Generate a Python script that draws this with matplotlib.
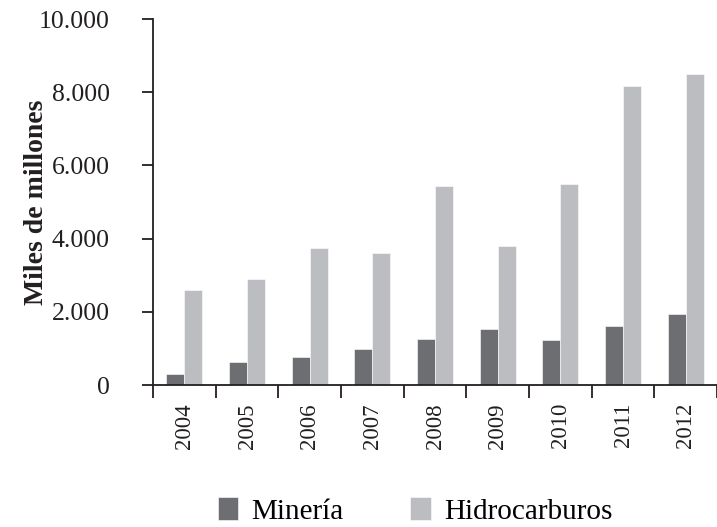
import matplotlib
matplotlib.use("Agg")
import matplotlib.pyplot as plt
import numpy as np

years = ["2004", "2005", "2006", "2007", "2008", "2009", "2010", "2011", "2012"]
mineria = [300, 635, 755, 985, 1255, 1525, 1235, 1600, 1945]
hidrocarburos = [2595, 2905, 3745, 3600, 5430, 3785, 5480, 8170, 8490]

dark = "#6d6e71"
light = "#bcbdc0"
axis_col = "#231f20"

plt.rcParams["font.family"] = ["Liberation Serif", "DejaVu Serif"]

fig = plt.figure(figsize=(7.17, 5.27), dpi=100)
ax = fig.add_axes([153 / 717, 1 - 385 / 527, 1 - 153 / 717, (385 - 19) / 527])

x = np.arange(len(years))
w = 0.285
ax.bar(x - w / 2, mineria, w, color=dark, edgecolor="white", linewidth=0.4, label="Minería")
ax.bar(x + w / 2, hidrocarburos, w, color=light, edgecolor="white", linewidth=0.4, label="Hidrocarburos")

ax.set_ylim(0, 10000)
ax.set_xlim(-0.5, -0.5 + 564 / 63.2)

# spines
for s in ["top", "right"]:
    ax.spines[s].set_visible(False)
for s in ["left", "bottom"]:
    ax.spines[s].set_color(axis_col)
    ax.spines[s].set_linewidth(1.3)

# y axis
yt = [0, 2000, 4000, 6000, 8000, 10000]
ax.set_yticks(yt)
ax.set_yticklabels(["0", "2.000", "4.000", "6.000", "8.000", "10.000"], fontsize=18.5, color=axis_col)
ax.tick_params(axis="y", direction="out", length=8, width=1.3, color=axis_col, pad=23)

# x axis: labels at centres, ticks between groups
ax.set_xticks(x)
ax.set_xticklabels(years, rotation=90, fontsize=16.5, color=axis_col)
ax.tick_params(axis="x", which="major", length=0, pad=13)
ax.set_xticks(np.arange(-0.5, len(years), 1.0), minor=True)
ax.tick_params(axis="x", which="minor", direction="out", length=9, width=1.3, color=axis_col)

ax.set_ylabel("Miles de millones", fontsize=20, fontweight="bold", color=axis_col)
ax.yaxis.set_label_coords(-0.185, 0.5)

handles, labels = ax.get_legend_handles_labels()
fig.legend(handles, labels, loc="center", bbox_to_anchor=(415 / 717, 1 - 511 / 527),
           ncol=2, frameon=False, fontsize=21, handlelength=0.7, handleheight=0.8,
           handletextpad=0.45, columnspacing=2.3)

fig.savefig("out.png", dpi=100)
